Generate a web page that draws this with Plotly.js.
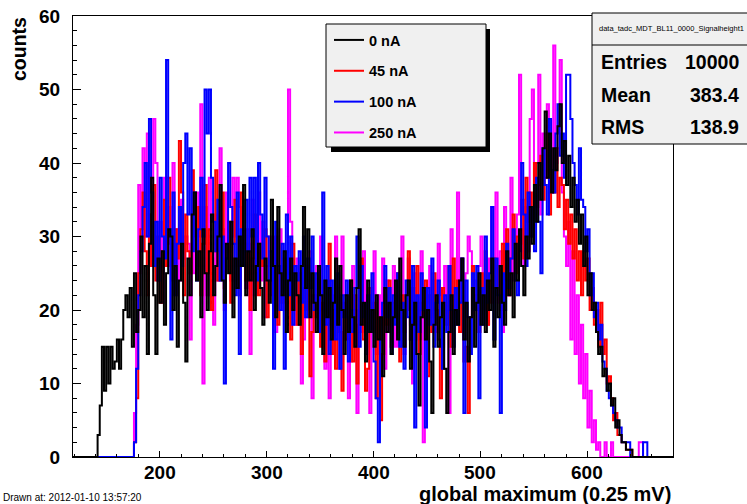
<!DOCTYPE html>
<html><head><meta charset="utf-8">
<script src="https://cdn.plot.ly/plotly-3.0.1.min.js"></script>
<style>html,body{margin:0;padding:0;background:#fff;}#chart{width:747px;height:504px;}</style>
</head><body><div id="chart"></div>
<script>
// ---------------- data ----------------
const binWidth = 2;
const xRange = [119, 680];
const yRange = [0, 60];
const xTickVals = [200, 300, 400, 500, 600];
const xTickText = ["200", "300", "400", "500", "600"];
const yTickVals = [0, 10, 20, 30, 40, 50, 60];
const yTickText = ["0", "10", "20", "30", "40", "50", "60"];

const seriesNames = ["0 nA", "45 nA", "100 nA", "250 nA"];
const seriesColors = ["#000000", "#ff0000", "#0000ff", "#ff00ff"];

const start0nA = 142;
const counts0nA = [
3,7,15,9,15,10,15,12,13,16,
12,16,20,22,19,23,15,25,17,20,
30,19,26,14,29,38,22,14,27,21,
28,18,25,31,30,20,26,15,24,29,
21,13,27,22,33,36,24,28,19,31,
25,20,28,33,22,26,30,37,24,21,
29,25,32,19,27,23,30,26,37,22,
28,24,31,20,26,29,23,18,27,24,
21,35,26,19,34,25,22,28,17,24,
27,20,25,22,18,26,34,23,31,19,
25,21,17,26,22,14,24,19,23,16,
21,27,18,26,20,14,22,17,24,19,
15,23,31,18,21,13,24,17,20,15,
22,16,19,11,23,17,21,14,19,24,
16,27,20,15,22,24,12,18,21,14,
7,19,23,16,20,13,6,18,22,15,
19,21,12,6,17,22,14,20,18,24,
27,16,21,13,19,23,15,21,25,18,
22,17,24,20,27,15,23,19,26,21,
18,28,22,25,19,29,24,31,26,22,
30,27,34,29,37,32,40,35,42,47,
38,44,36,42,39,45,48,40,43,37,
41,34,38,32,35,29,33,26,30,22,
25,20,21,17,14,15,11,12,9,10,
7,8,4,5,3,2,2,1,1,1];

const start45nA = 176;
const counts45nA = [
2,8,25,31,36,28,22,33,26,37,
24,30,21,28,35,26,38,29,24,31,
27,43,36,22,33,28,25,39,30,26,
34,22,29,37,25,31,20,28,39,24,
30,36,23,27,32,21,29,35,26,22,
36,28,24,31,20,27,33,25,22,29,
26,31,19,24,28,22,30,18,25,21,
27,20,24,16,29,22,18,25,14,23,
20,26,11,17,22,19,24,15,21,13,
18,29,14,20,12,23,17,9,21,16,
19,24,13,22,10,18,27,16,9,12,
23,17,21,8,19,5,14,22,18,24,
15,21,19,25,13,22,17,20,28,16,
23,18,26,14,21,19,24,11,22,17,
25,20,16,8,23,21,18,26,15,27,
19,24,17,21,13,15,6,19,26,20,
22,17,25,20,28,18,24,21,27,23,
26,20,29,24,31,22,27,33,25,30,
29,35,27,38,32,36,30,40,34,37,
41,35,38,44,33,39,36,42,34,38,
37,31,35,29,33,27,31,24,28,22,
28,24,27,20,23,18,20,15,21,14,
16,10,11,8,5,6,3,3,2,2,
1,1,1];

const start100nA = 176;
const counts100nA = [
2,12,22,28,34,40,30,46,36,26,
32,24,38,30,27,54,31,16,36,22,
29,34,26,40,44,33,42,28,36,24,
31,38,30,50,44,50,38,32,28,35,
24,30,10,27,40,34,29,22,36,14,
31,26,35,28,38,30,38,24,40,33,
27,38,30,24,28,12,32,26,20,29,
12,33,22,30,18,26,24,28,21,30,
19,27,23,30,20,25,17,22,36,18,
26,14,24,21,16,25,12,22,19,24,
13,20,17,23,30,15,26,19,14,22,
17,25,13,8,2,16,21,26,19,23,
14,22,18,25,15,21,12,24,19,16,
26,4,22,17,25,20,4,23,18,27,
15,21,24,19,12,22,17,26,20,15,
23,18,21,27,6,24,19,14,25,20,
26,8,23,18,30,21,25,34,16,27,
22,6,25,20,29,23,27,31,24,22,
28,40,33,26,36,30,34,28,38,32,
25,42,37,33,46,39,36,44,48,41,
44,38,52,52,46,40,37,33,42,35,
34,28,31,22,25,19,21,16,18,13,
12,9,8,7,6,5,4,4,2,2,
2,2,0,0,0,0,0,0,2,2];

const start250nA = 176;
const counts250nA = [
6,18,37,28,42,30,44,26,33,46,
40,24,32,21,38,29,34,26,40,22,
31,24,35,27,30,29,16,33,25,36,
30,48,10,34,22,38,27,18,33,24,
42,31,20,36,28,24,38,30,38,34,
26,31,23,29,14,35,22,29,36,24,
32,19,26,30,22,28,17,25,31,20,
26,22,50,32,24,18,27,21,10,16,
24,19,28,8,22,26,17,30,20,12,
24,8,14,22,30,18,12,30,22,16,
8,13,26,20,6,23,17,28,15,21,
6,19,28,14,22,18,27,12,24,17,
21,26,15,23,19,30,14,22,27,18,
10,25,20,16,28,2,23,21,26,19,
24,17,29,22,15,26,20,6,31,18,
23,36,21,27,16,25,30,28,19,24,
22,26,30,20,24,18,27,34,24,36,
21,28,17,34,26,22,38,24,29,33,
52,31,26,34,28,46,50,36,40,52,
33,44,38,48,42,36,56,40,42,54,
36,30,26,32,16,28,14,22,10,18,
8,14,4,9,2,5,1,2,0,0,
2,0,0,2,0,0,0,0,0,0,
0,0,0,0,0,0,2,2,0];

const statsTitle = "data_tadc_MDT_BL11_0000_Signalheight1";
const statsLabels = ["Entries", "Mean", "RMS"];
const statsValues = ["10000", "383.4", "138.9"];
const drawnAt = "Drawn at: 2012-01-10 13:57:20";

// ---------------- helpers ----------------
const W = 747, H = 504, L = 73, R = 673, T = 16, B = 457;
const px = v => (v - L) / (R - L);
const py = v => (B - v) / (B - T);
const FONT = "Liberation Sans, Arial, Helvetica, sans-serif";

function stepTrace(start, vals, name, color, rank) {
  const xs = [xRange[0]], ys = [0];
  for (let i = 0; i < vals.length; i++) { xs.push(start + i * binWidth); ys.push(vals[i]); }
  xs.push(start + vals.length * binWidth); ys.push(0);
  xs.push(xRange[1]); ys.push(0);
  return {type: "scatter", mode: "lines", x: xs, y: ys, name: name, legendgroup: name,
    legendrank: rank, line: {shape: "hv", color: color, width: 2}, hoverinfo: "skip"};
}

// drawing order: magenta, red, blue, black on top
const traces = [
  stepTrace(start250nA, counts250nA, seriesNames[3], seriesColors[3], 4),
  stepTrace(start45nA, counts45nA, seriesNames[1], seriesColors[1], 2),
  stepTrace(start100nA, counts100nA, seriesNames[2], seriesColors[2], 3),
  stepTrace(start0nA, counts0nA, seriesNames[0], seriesColors[0], 1)
];

const shapes = [
  // legend shadow + box
  {type: "rect", xref: "paper", yref: "paper", x0: px(331), x1: px(490), y0: py(152), y1: py(29),
   fillcolor: "#000", line: {width: 0}, layer: "above"},
  {type: "rect", xref: "paper", yref: "paper", x0: px(326), x1: px(486), y0: py(147), y1: py(24),
   fillcolor: "#f0f0f0", line: {color: "#000", width: 1}, layer: "above"},
  // stats box
  {type: "rect", xref: "paper", yref: "paper", x0: px(592), x1: px(760), y0: py(144), y1: py(13),
   fillcolor: "#f0f0f0", line: {color: "#000", width: 1}, layer: "above"},
  {type: "line", xref: "paper", yref: "paper", x0: px(592), x1: px(760), y0: py(45), y1: py(45),
   line: {color: "#000", width: 1}, layer: "above"}
];

const annotations = [
  {text: "counts", xref: "paper", yref: "paper", x: px(19), y: py(49), textangle: -90,
   showarrow: false, xanchor: "center", yanchor: "middle", font: {family: FONT, size: 19.5, weight: "bold", color: "#000"}},
  {text: "global maximum (0.25 mV)", xref: "paper", yref: "paper", x: px(673), y: py(494),
   showarrow: false, xanchor: "right", yanchor: "middle", font: {family: FONT, size: 20, weight: "bold", color: "#000"}},
  {text: drawnAt, xref: "paper", yref: "paper", x: px(1), y: py(497),
   showarrow: false, xanchor: "left", yanchor: "middle", font: {family: FONT, size: 10, color: "#000"}},
  {text: statsTitle, xref: "paper", yref: "paper", x: px(597), y: py(29),
   showarrow: false, xanchor: "left", yanchor: "middle", font: {family: FONT, size: 7.5, color: "#000"}}
];
// x tick labels placed through the x axis scale (data coordinates)
for (let i = 0; i < xTickVals.length; i++) {
  annotations.push({text: xTickText[i], xref: "x", yref: "paper", x: xTickVals[i], y: py(472),
    showarrow: false, xanchor: "center", yanchor: "middle", font: {family: FONT, size: 19, weight: "bold", color: "#000"}});
}
const rowY = [62, 95, 127];
for (let i = 0; i < statsLabels.length; i++) {
  annotations.push({text: statsLabels[i], xref: "paper", yref: "paper", x: px(599), y: py(rowY[i]),
    showarrow: false, xanchor: "left", yanchor: "middle", font: {family: FONT, size: 19.5, weight: "bold", color: "#000"}});
  annotations.push({text: statsValues[i], xref: "paper", yref: "paper", x: px(741), y: py(rowY[i]),
    showarrow: false, xanchor: "right", yanchor: "middle", font: {family: FONT, size: 19.5, weight: "bold", color: "#000"}});
}

const axisCommon = {
  showline: true, linecolor: "#000", linewidth: 1, mirror: true, showgrid: false, zeroline: false,
  ticks: "inside", tickcolor: "#000", tickwidth: 1, tickmode: "array",
  tickfont: {family: FONT, size: 19, weight: "bold", color: "#000"}
};

const layout = {
  width: W, height: H, margin: {l: L, r: W - R, t: T, b: H - B, pad: 0},
  paper_bgcolor: "#fff", plot_bgcolor: "#fff",
  font: {family: FONT, color: "#000"},
  showlegend: true,
  legend: {x: px(329), y: py(24), xanchor: "left", yanchor: "top", bgcolor: "rgba(0,0,0,0)",
    borderwidth: 0, tracegroupgap: 9, traceorder: "grouped",
    font: {family: FONT, size: 14.5, weight: "bold", color: "#000"}},
  xaxis: Object.assign({}, axisCommon, {range: xRange, tickvals: xTickVals, ticktext: xTickText,
    ticklen: 6, showticklabels: false,
    minor: {tickmode: "linear", tick0: 0, dtick: 20, ticks: "inside", ticklen: 3, tickcolor: "#000", showgrid: false}}),
  yaxis: Object.assign({}, axisCommon, {range: yRange, tickvals: yTickVals, ticktext: yTickText,
    ticklen: 8, ticklabelstandoff: 8,
    minor: {tickmode: "linear", tick0: 0, dtick: 2, ticks: "inside", ticklen: 4, tickcolor: "#000", showgrid: false}}),
  shapes: shapes,
  annotations: annotations
};

Plotly.newPlot("chart", traces, layout, {staticPlot: true, displayModeBar: false});
</script>
</body></html>
